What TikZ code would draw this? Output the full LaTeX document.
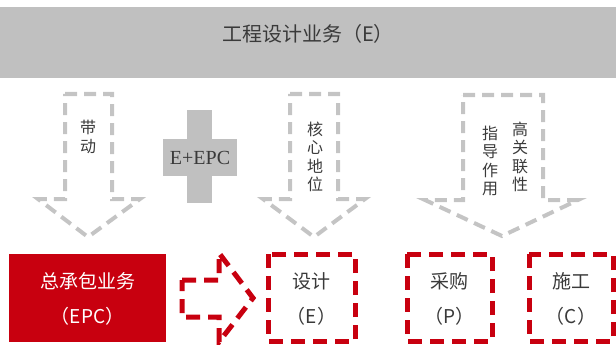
\documentclass[tikz,border=0pt]{standalone}
\usepackage{fontspec}
\setmainfont{Liberation Serif}
\newfontfamily\cjk{Noto Sans CJK SC}
\definecolor{bargray}{HTML}{C0C0C0}
\definecolor{dgray}{HTML}{C4C4C4}
\definecolor{myred}{HTML}{C8000F}
\definecolor{txt}{HTML}{3A3A3A}
\begin{document}
\begin{tikzpicture}[x=1pt,y=-1pt,
  grayarrow/.style={draw=dgray, line width=4pt, dash pattern=on 12pt off 7pt, line join=miter},
  redline/.style={draw=myred, line width=5pt, dash pattern=on 14pt off 8pt},
  lbl/.style={font=\cjk\fontsize{16}{18.5}\selectfont, text=txt, align=center, inner sep=0pt},
  boxlbl/.style={font=\cjk\fontsize{19}{35}\selectfont, text=txt, align=center, inner sep=0pt}]
\useasboundingbox (0,0) rectangle (616,345);
% top bar
\fill[bargray] (0,7) rectangle (616,78);
\node[font=\cjk\fontsize{20}{22}\selectfont, text=txt, inner sep=0pt] (title) at (308,34) {工程设计业务（E）};
% arrow 1
\draw[grayarrow] (65,94) -- (112,94) -- (112,199) -- (140,199) -- (88,237) -- (38,199) -- (65,199) -- cycle;
\node[lbl] (a1) at (88,137) {带\\动};
% plus
\fill[bargray] (187,110) rectangle (212,203);
\fill[bargray] (163,139) rectangle (237,176);
\node[font=\fontsize{20}{22}\selectfont, text=txt, inner sep=0pt] (plus) at (200,158) {E+EPC};
% arrow 2
\draw[grayarrow] (290,94) -- (338,94) -- (338,199) -- (365,199) -- (314,237) -- (263,199) -- (290,199) -- cycle;
\node[lbl] (a2) at (315,157) {核\\心\\地\\位};
% arrow 3
\draw[grayarrow] (463,95) -- (543,95) -- (543,200) -- (578,200) -- (502,236) -- (425,200) -- (463,200) -- cycle;
\node[lbl] (a3r) at (520,157) {高\\关\\联\\性};
\node[lbl] (a3l) at (490,161) {指\\导\\作\\用};
% EPC box
\fill[myred] (9,254) rectangle (166,342);
\node[boxlbl, text=white] (epc) at (87.5,299) {总承包业务\\（EPC）};
% red arrow
\draw[redline] (182,280) -- (219,280) -- (219,253) -- (253,298) -- (219,342) -- (219,317) -- (182,317) -- cycle;
% dashed boxes
\draw[redline] (268,254) rectangle (355,341);
\node[boxlbl] (e) at (311.5,299) {设计\\（E）};
\draw[redline] (407,254) rectangle (492,341);
\node[boxlbl] (p) at (449.5,299) {采购\\（P）};
\draw[redline] (529,254) rectangle (613,341);
\node[boxlbl] (c) at (571,299) {施工\\（C）};
\end{tikzpicture}
\end{document}
